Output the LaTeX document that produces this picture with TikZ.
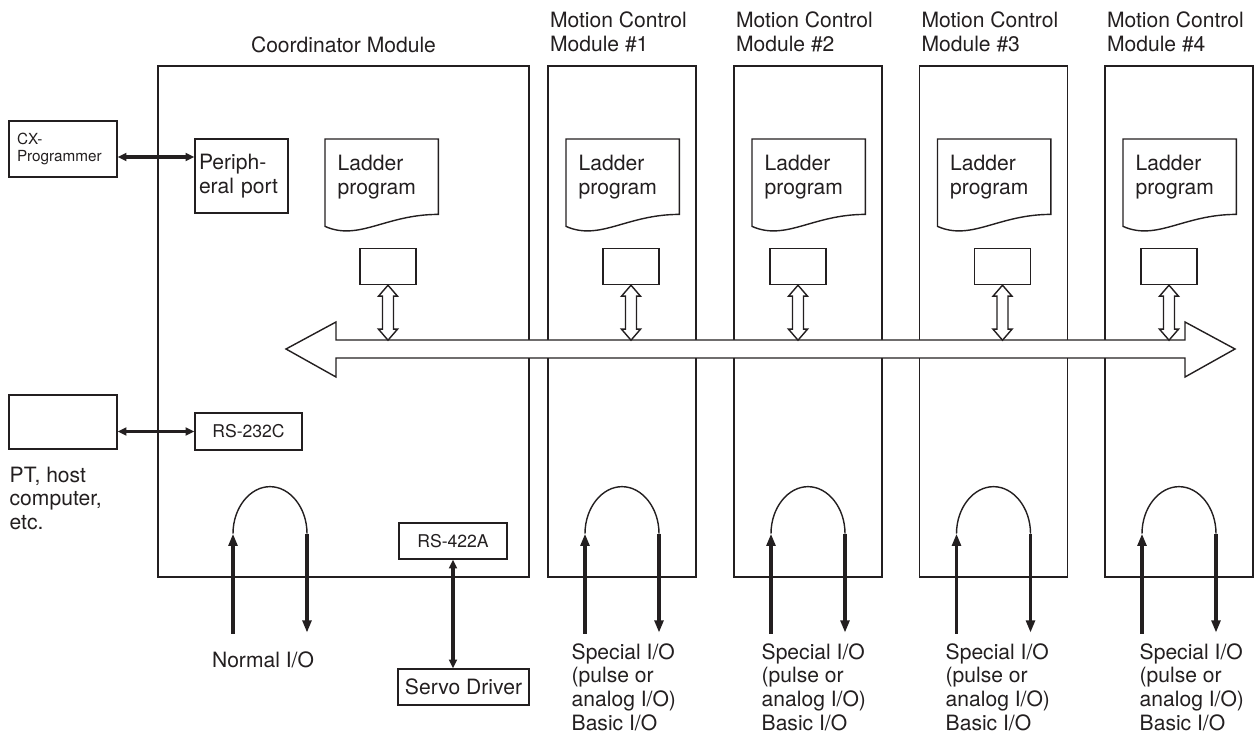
\documentclass[tikz,border=0pt]{standalone}
\usepackage{fontspec}
\setmainfont{TeX Gyre Heros}
\usetikzlibrary{arrows.meta, positioning, calc}
\definecolor{cline}{HTML}{231F20}
\tikzset{
  every picture/.style={font=\fontsize{12}{13.6}\selectfont, color=cline, line width=0.8pt, x=0.02cm, y=-0.02cm},
  module/.style={draw, minimum width=2.96cm, minimum height=10.22cm, inner sep=0pt},
  ladder/.style={align=left, text width=1.76cm, minimum height=1.48cm, inner xsep=0.24cm, inner ysep=0pt},
  buf/.style={draw, minimum width=1.12cm, minimum height=0.72cm, inner sep=0pt},
  port/.style={draw, align=center, inner sep=0pt, font=\fontsize{10}{12}\selectfont},
  device/.style={draw, align=left, inner ysep=0pt, minimum width=2.16cm},
  hollow/.style={draw, fill=white, line width=0.8pt, line join=miter},
  io/.style={-{Triangle[length=7pt, width=5pt]}, line width=2pt},
  link/.style={{Triangle[length=5pt, width=4.5pt]}-{Triangle[length=5pt, width=4.5pt]}, line width=2pt},
  note/.style={align=left, inner sep=0pt},
}
\begin{document}
\begin{tikzpicture}
  \useasboundingbox (0,0) rectangle (1254,736);
  % coordinator and the four motion control modules
  \node[module, minimum width=7.42cm] (coord) at (343.5,321.5) {};
  \node[note] (ctitle) at (343.5,45) {Coordinator Module};
  \foreach \i/\cx in {1/622, 2/808, 3/993.5, 4/1179} {
    \node[module] (m\i) at (\cx,321.5) {};
    \node[note, anchor=west] (t\i) at ($(m\i.north west)+(2,-33.5)$) {Motion Control\\Module \#\i};
  }
  % ladder programs
  \foreach \n/\x in {lc/325, l1/566, l2/752, l3/937.5, l4/1123}
    \node[ladder, anchor=north west] (\n) at (\x,139) {Ladder\\program};
  \foreach \n in {lc, l1, l2, l3, l4}
    \draw (\n.south east) |- (\n.north west) -- ($(\n.south west)+(0,12)$)
      .. controls ($(\n.south west)+(34,27)$) and ($(\n.south east)+(-53,0)$) .. (\n.south east) -- cycle;
  \foreach \n/\x in {bc/388, b1/631, b2/798, b3/1002.5, b4/1169}
    \node[buf] (\n) at (\x,266.5) {};
  % the shared bus
  \coordinate (busl) at (286,349);
  \coordinate (busr) at (1235,349);
  \draw[hollow] (busl) -- ++(50,-27) -- ++(0,18) -- ($(busr)+(-50,-9)$) -- ++(0,-18) -- (busr)
    -- ++(-50,28) -- ++(0,-19) -- ($(busl)+(50,9)$) -- ++(0,19) -- cycle;
  \foreach \n in {bc, b1, b2, b3, b4}
    \draw[hollow] (\n.south) -- ++(9.5,11) -- ++(-4,0) -- ++(0,33) -- ++(4,0) -- ++(-9.5,11)
      -- ++(-9.5,-11) -- ++(4,0) -- ++(0,-33) -- ++(-4,0) -- cycle;
  % ports of the coordinator
  \node[draw, align=left, text width=1.7cm, minimum height=1.48cm, inner xsep=0.08cm, inner ysep=0pt] (pport) at (241.5,176) {Periph-\\eral port};
  \node[port, minimum width=2.14cm, minimum height=0.74cm] (rs232) at (248.5,431.5) {RS-232C};
  \node[port, minimum width=2.16cm, minimum height=0.72cm] (rs422) at (453,541) {RS-422A};
  \node[draw, inner sep=0pt, minimum width=2.62cm, minimum height=0.72cm] (servo) at (463.5,687) {Servo Driver};
  % outside devices
  \node[device, text width=1.84cm, inner xsep=0.16cm, minimum height=1.12cm, font=\fontsize{8.7}{9.4}\selectfont] (cx) at (63,149) {CX-\\Programmer};
  \node[device, minimum height=1.08cm] (pt) at (63,422) {};
  \node[note, anchor=north west] (ptl) at (9,466) {PT, host\\computer,\\etc.};
  \coordinate (cxa) at ($(cx.east)+(0,8)$);
  \draw[link] (cxa) -- (cxa -| pport.west);
  \draw[link] (rs232.west -| pt.east) -- (rs232.west);
  \draw[link] (rs422.south) -- (rs422.south |- servo.north);
  % I/O loops
  \foreach \m/\dx in {coord/-73.5, m1/0, m2/0, m3/0, m4/0} {
    \coordinate (\m-lp) at ($(\m.south)+(\dx,0)$);
    \coordinate (\m-in) at ($(\m-lp)+(-37,-44)$);
    \coordinate (\m-out) at ($(\m-lp)+(37,-44)$);
    \draw (\m-in) .. controls ($(\m-lp)+(-37,-70)$) and ($(\m-lp)+(-20,-91)$) .. ($(\m-lp)+(0,-91)$)
      .. controls ($(\m-lp)+(20,-91)$) and ($(\m-lp)+(37,-70)$) .. (\m-out);
    \draw[io] ($(\m-in)+(0,100)$) -- (\m-in);
    \draw[io] (\m-out) -- ($(\m-out)+(0,99)$);
  }
  \node[note] (nio) at (263,660) {Normal I/O};
  \foreach \i/\x in {1/571, 2/761, 3/945, 4/1139}
    \node[note, anchor=north west, font=\fontsize{12}{13.4}\selectfont] (io\i) at (\x,643) {Special I/O\\(pulse or\\analog I/O)\\Basic I/O};
\end{tikzpicture}
\end{document}
